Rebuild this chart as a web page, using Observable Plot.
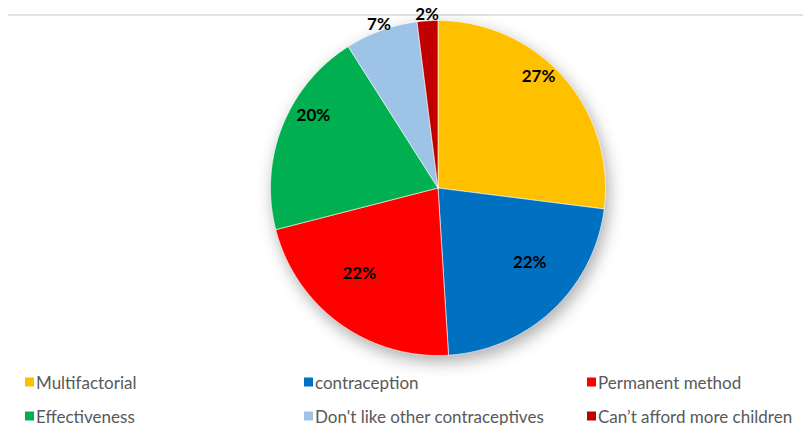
<!DOCTYPE html>
<html><head><meta charset="utf-8">
<script src="https://cdn.jsdelivr.net/npm/d3@7"></script>
<script src="https://cdn.jsdelivr.net/npm/@observablehq/plot@0.6"></script>
<style>
body{margin:0;background:#fff;}
#chart{position:relative;width:803px;height:425px;overflow:hidden;background:#fff;font-family:Lato,"Open Sans",sans-serif;}
#topline{position:absolute;left:8px;right:0;top:14px;height:2px;background:#e2e2e2;}
#plot{position:absolute;left:0;top:0;}
#plot svg{overflow:visible}
.pie-slices{filter:drop-shadow(3px 6px 8px rgba(0,0,0,0.32));}
.lg{position:absolute;display:flex;align-items:center;font-size:17px;color:#595959;white-space:nowrap;transform:translateY(-50%);}
.lg .sw{width:9px;height:9px;margin-right:2px;display:inline-block;}
</style></head><body><div id="chart"><div id="topline"></div><div id="plot"></div></div>
<script>
// ---- data ----
const categories = ["Multifactorial", "contraception", "Permanent method", "Effectiveness", "Don't like other contraceptives", "Can’t afford more children"];
const values = [27, 22, 22, 20, 7, 2];
const colors = ["#FFC000", "#0070C0", "#FF0000", "#00B050", "#9DC3E6", "#C00000"];
const valueLabels = ["27%", "22%", "22%", "20%", "7%", "2%"];

// ---- layout ----
const W = 803, H = 365;
const CX = 437.5, CY = 187.5, R = 167.5;

const rows = categories.map((c, i) => ({category: c, value: values[i], label: valueLabels[i]}));
const arcs = d3.pie().sort(null).value(d => d.value)(rows);

const pts = [];
for (const a of arcs) {
  const n = Math.max(2, Math.ceil((a.endAngle - a.startAngle) / (Math.PI / 360)));
  pts.push({category: a.data.category, x: 0, y: 0});
  for (let k = 0; k <= n; k++) {
    const t = a.startAngle + (a.endAngle - a.startAngle) * k / n;
    pts.push({category: a.data.category, x: Math.sin(t), y: -Math.cos(t)});
  }
  pts.push({category: a.data.category, x: 0, y: 0});
}

const lab = arcs.map(a => {
  const m = (a.startAngle + a.endAngle) / 2;
  const outside = a.data.value < 10;
  const r = outside ? 1.04 : 0.8;
  return {x: r * Math.sin(m), y: -r * Math.cos(m), text: a.data.label, outside};
});

const plot = Plot.plot({
  width: W, height: H,
  margin: 0,
  x: {domain: [-CX / R, (W - CX) / R], range: [0, W], axis: null},
  y: {domain: [-CY / R, (H - CY) / R], range: [0, H], axis: null},
  color: {domain: categories, range: colors},
  style: {background: "transparent", fontFamily: "Lato, 'Open Sans', sans-serif"},
  marks: [
    Plot.line(pts, {x: "x", y: "y", z: "category", fill: "category", stroke: "#ffffff", strokeWidth: 0.6, curve: "linear", className: "pie-slices"}),
    Plot.text(lab.filter(d => !d.outside), {x: "x", y: "y", text: "text", dy: -23, fontSize: 17, fontWeight: "bold", fill: "#000"}),
    Plot.text(lab.filter(d => d.outside), {x: "x", y: "y", text: "text", fontSize: 17, fontWeight: "bold", fill: "#000"})
  ]
});
document.getElementById("plot").appendChild(plot);

// ---- legend ----
const colX = [25, 304, 587];
const rowY = [382, 416];
const chart = document.getElementById("chart");
categories.forEach((c, i) => {
  const el = document.createElement("div");
  el.className = "lg";
  el.style.left = colX[i % 3] + "px";
  el.style.top = rowY[Math.floor(i / 3)] + "px";
  const sw = document.createElement("span");
  sw.className = "sw";
  sw.style.background = colors[i];
  el.appendChild(sw);
  el.appendChild(document.createTextNode(c));
  chart.appendChild(el);
});
</script></body></html>
